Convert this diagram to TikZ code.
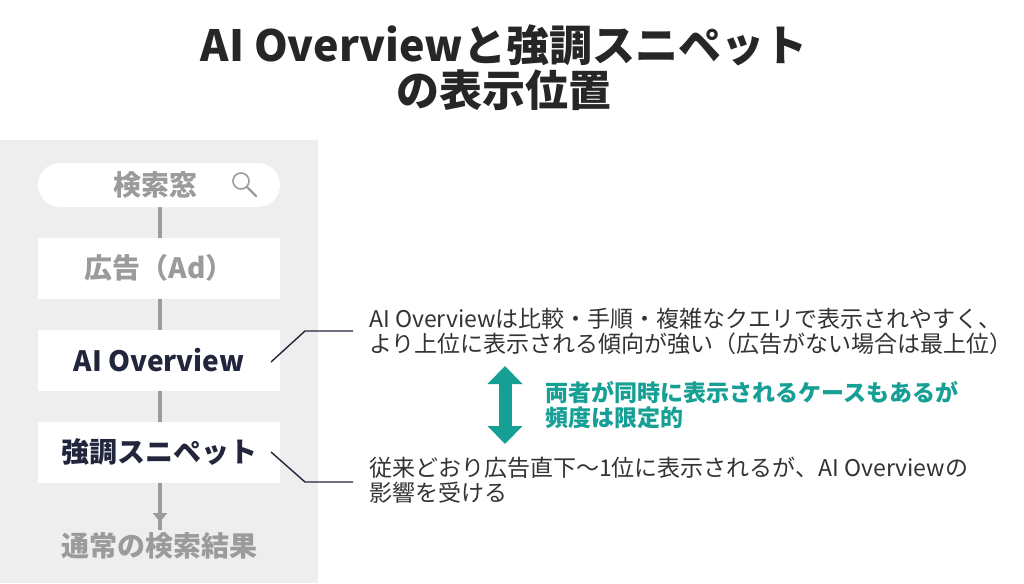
\documentclass[tikz,border=0pt]{standalone}
\usepackage{fontspec}
\setmainfont{Noto Sans CJK JP}
\usetikzlibrary{arrows.meta}
\definecolor{panelgray}{HTML}{EEEEEE}
\definecolor{textgray}{HTML}{9B9B9B}
\definecolor{navy}{HTML}{22263D}
\definecolor{teal}{HTML}{16A095}
\definecolor{ink}{HTML}{333333}
\tikzset{
  stepbox/.style={fill=white, minimum width=242pt, minimum height=61pt, font=\fontsize{28}{32}\selectfont\bfseries},
  note/.style={anchor=west, align=left, inner sep=0pt, text=ink, font=\fontsize{23}{25}\selectfont},
  leader/.style={draw=navy, line width=1.4pt},
}
\begin{document}
\begin{tikzpicture}[x=1pt,y=-1pt]
    \useasboundingbox (0,0) rectangle (1024,583);
    \fill[white] (0,0) rectangle (1024,583);

    % title
    \node[font=\fontsize{43}{45}\selectfont\bfseries, text=black!85, align=center] (title) at (504,68)
        {AI Overviewと強調スニペット\\の表示位置};

    % left column
    \fill[panelgray] (0,140) rectangle (318,583);
    \draw[textgray, line width=4pt] (160,200) -- (160,530);
    \draw[textgray, line width=4pt, -{Triangle[length=9pt,width=14pt]}] (160,480) -- (160,522);

    \node[fill=white, rounded corners=22pt, minimum width=242pt, minimum height=44pt] (search) at (159,185) {};
    \node[font=\fontsize{28}{32}\selectfont\bfseries, text=textgray] (searchlbl) at (155,185) {検索窓};
    \draw[textgray, line width=1.6pt] (241,181) circle (8pt);
    \draw[textgray, line width=2.2pt, line cap=round] (247,187) -- (256,196);

    \node[stepbox, text=textgray] (ad) at (159,268) {広告（Ad）};
    \node[stepbox, text=navy] (aio) at (159,360) {AI Overview};
    \node[stepbox, text=navy] (snip) at (159,452) {強調スニペット};
    \node[font=\fontsize{28}{32}\selectfont\bfseries, text=textgray] (organic) at (159,546) {通常の検索結果};

    % notes
    \node[note] (aionote) at (369,331)
        {AI Overviewは比較・手順・複雑なクエリで表示されやすく、\\より上位に表示される傾向が強い（広告がない場合は最上位）};
    \node[note] (snipnote) at (369,480)
        {従来どおり広告直下〜1位に表示されるが、AI Overviewの\\影響を受ける};
    \coordinate (aiknee) at (305,331);
    \coordinate (snipknee) at (305,482);
    \draw[leader] (271,362) -- (aiknee) -- (353,331);
    \draw[leader] (271,452) -- (snipknee) -- (353,482);

    \draw[teal, line width=13pt, {Triangle[length=18pt,width=34pt]}-{Triangle[length=18pt,width=34pt]}] (505,366) -- (505,444);
    \node[anchor=west, align=left, inner sep=0pt, text=teal, font=\fontsize{23}{25}\selectfont\bfseries] (both) at (545,405)
        {両者が同時に表示されるケースもあるが\\頻度は限定的};
\end{tikzpicture}
\end{document}
